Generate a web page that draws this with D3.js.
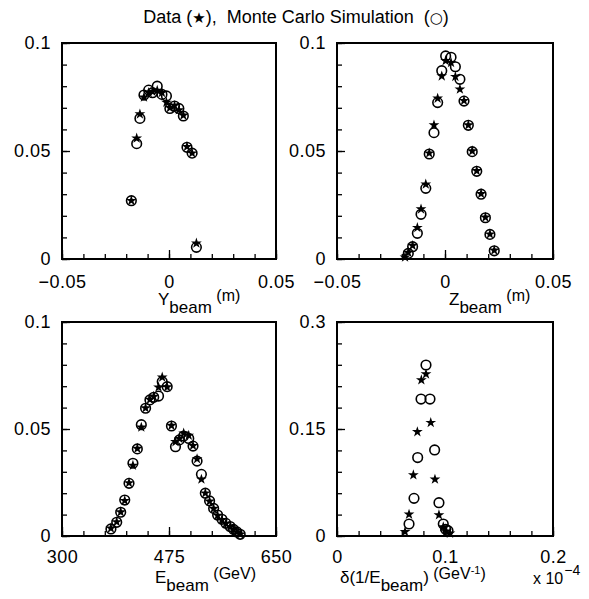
<!DOCTYPE html>
<html><head><meta charset="utf-8">
<script src="https://cdn.jsdelivr.net/npm/d3@7"></script>
<style>
body{margin:0;background:#fff;}
svg{display:block;font-family:"Liberation Sans",Arial,sans-serif;}
</style></head>
<body><svg id="c" width="589" height="599"></svg>
<script>
// ---- Panel 1: Y_beam ----
const yBeamDataX = [-0.0176,-0.0151,-0.0136,-0.0117,-0.0095,-0.0077,-0.0055,-0.0033,-0.0012,0.0004,0.0026,0.0046,0.0067,0.0084,0.0108,0.0128];
const yBeamData  = [0.0270,0.0559,0.0671,0.0749,0.0770,0.0775,0.0780,0.0770,0.0725,0.0700,0.0710,0.0690,0.0665,0.0520,0.0490,0.0073];
const yBeamMCX   = [-0.0176,-0.0151,-0.0136,-0.0117,-0.0095,-0.0077,-0.0055,-0.0033,-0.0012,0.0004,0.0026,0.0046,0.0067,0.0084,0.0108,0.0128];
const yBeamMC    = [0.0270,0.0534,0.0651,0.0759,0.0782,0.0770,0.0800,0.0762,0.0755,0.0697,0.0708,0.0697,0.0662,0.0517,0.0490,0.0054];
// ---- Panel 2: Z_beam ----
const zBeamDataX = [-0.0185,-0.0170,-0.0150,-0.0128,-0.0111,-0.0089,-0.0073,-0.0051,-0.0034,-0.0015,0.0003,0.0028,0.0048,0.0069,0.0088,0.0108,0.0126,0.0147,0.0167,0.0187,0.0208,0.0228];
const zBeamData  = [0.0008,0.0030,0.0062,0.0145,0.0231,0.0346,0.0490,0.0620,0.0744,0.0847,0.0918,0.0909,0.0844,0.0786,0.0733,0.0620,0.0500,0.0408,0.0302,0.0193,0.0115,0.0040];
const zBeamMCX   = [-0.0170,-0.0150,-0.0128,-0.0111,-0.0089,-0.0073,-0.0051,-0.0034,-0.0015,0.0003,0.0028,0.0048,0.0069,0.0088,0.0108,0.0126,0.0147,0.0167,0.0187,0.0208,0.0228];
const zBeamMC    = [0.0026,0.0057,0.0119,0.0207,0.0327,0.0486,0.0585,0.0724,0.0872,0.0940,0.0934,0.0890,0.0832,0.0731,0.0619,0.0497,0.0406,0.0300,0.0191,0.0114,0.0038];
// ---- Panel 3: E_beam ----
const eBeamX     = [380,389.5,396,402.6,409.6,416,423.2,429.7,436.7,443.8,450,457.9,463.9,472,479,485.6,492,499,507.3,514.3,520.9,528,534.4,541.4,548,554.5,561.6,568,575,580.5,586,591.4];
const eBeamData  = [0.0036,0.0066,0.0112,0.0165,0.0248,0.0330,0.0409,0.0508,0.0598,0.0638,0.0652,0.0695,0.0742,0.0696,0.0516,0.0440,0.0455,0.0480,0.0470,0.0422,0.0360,0.0265,0.0200,0.0162,0.0128,0.0096,0.0076,0.0058,0.0043,0.0030,0.0018,0.0008];
const eBeamMC    = [0.0033,0.0064,0.0111,0.0168,0.0246,0.0340,0.0407,0.0520,0.0597,0.0636,0.0648,0.0654,0.0721,0.0698,0.0514,0.0417,0.0449,0.0467,0.0456,0.0420,0.0350,0.0288,0.0200,0.0164,0.0129,0.0098,0.0078,0.0059,0.0044,0.0031,0.0019,0.0008];
// ---- Panel 4: delta(1/E_beam) (x 1e-4) ----
const dInvDataX  = [0.0630,0.0667,0.0707,0.0744,0.0781,0.0824,0.0868,0.0907,0.0944,0.0984,0.1012,0.1046];
const dInvData   = [0.006,0.0304,0.0855,0.146,0.2187,0.227,0.1589,0.0795,0.0294,0.0126,0.0067,0.0037];
const dInvMCX    = [0.0667,0.0713,0.0747,0.0778,0.0824,0.0861,0.0904,0.0944,0.0984,0.1006,0.1028];
const dInvMC     = [0.0168,0.0528,0.110,0.192,0.2397,0.192,0.1206,0.0467,0.0168,0.0094,0.0074];
// ---- tick labels ----
const posXTicks = [-0.05,0,0.05], posXLabels = ["\u22120.05","0","0.05"];
const posYTicks = [0,0.05,0.1],   posYLabels = ["0","0.05","0.1"];
const eXTicks = [300,475,650],    eXLabels = ["300","475","650"];
const dXTicks = [0,0.1,0.2],      dXLabels = ["0","0.1","0.2"];
const dYTicks = [0,0.15,0.3],     dYLabels = ["0","0.15","0.3"];

const FONT = "Liberation Sans, Arial, sans-serif";
const svg = d3.select("#c");
const panels = [
 {x0:62,x1:276,y0:43,y1:259, xd:[-0.05,0.05], yd:[0,0.1], xt:posXTicks, xl:posXLabels, yt:posYTicks, yl:posYLabels,
  dx:yBeamDataX, dy:yBeamData, mx:yBeamMCX, my:yBeamMC, xpad:16},
 {x0:337,x1:553,y0:43,y1:259, xd:[-0.05,0.05], yd:[0,0.1], xt:posXTicks, xl:posXLabels, yt:posYTicks, yl:posYLabels,
  dx:zBeamDataX, dy:zBeamData, mx:zBeamMCX, my:zBeamMC, xpad:16},
 {x0:62,x1:276,y0:322,y1:536, xd:[300,650], yd:[0,0.1], xt:eXTicks, xl:eXLabels, yt:posYTicks, yl:posYLabels,
  dx:eBeamX, dy:eBeamData, mx:eBeamX, my:eBeamMC, xpad:14},
 {x0:337,x1:553,y0:322,y1:536, xd:[0,0.2], yd:[0,0.3], xt:dXTicks, xl:dXLabels, yt:dYTicks, yl:dYLabels,
  dx:dInvDataX, dy:dInvData, mx:dInvMCX, my:dInvMC, xpad:14}
];

const star = d3.symbol().type(d3.symbolStar).size(36);
panels.forEach(p=>{
  const x = d3.scaleLinear().domain(p.xd).range([p.x0,p.x1]);
  const y = d3.scaleLinear().domain(p.yd).range([p.y1,p.y0]);
  const minorX = d3.range(11).map(i=>p.xd[0]+(p.xd[1]-p.xd[0])*i/10);
  const minorY = d3.range(11).map(i=>p.yd[0]+(p.yd[1]-p.yd[0])*i/10);
  svg.append("g").attr("transform",`translate(0,${p.y1})`)
    .call(d3.axisBottom(x).tickValues(minorX).tickSize(-5).tickFormat(""))
    .call(g=>{g.select(".domain").remove(); g.selectAll("line").attr("stroke-width",1.3);});
  svg.append("g").attr("transform",`translate(${p.x0},0)`)
    .call(d3.axisLeft(y).tickValues(minorY).tickSize(-5).tickFormat(""))
    .call(g=>{g.select(".domain").remove(); g.selectAll("line").attr("stroke-width",1.3);});
  svg.append("g").attr("transform",`translate(0,${p.y1})`)
    .call(d3.axisBottom(x).tickValues(p.xt).tickSize(-9).tickPadding(p.xpad).tickFormat((d,i)=>p.xl[i]))
    .call(g=>{g.select(".domain").remove(); g.selectAll("line").attr("stroke-width",1.3);
      g.selectAll("text").attr("font-size",18).attr("font-family",FONT).attr("fill","#000").attr("letter-spacing",0.5);});
  svg.append("g").attr("transform",`translate(${p.x0},0)`)
    .call(d3.axisLeft(y).tickValues(p.yt).tickSize(-8).tickPadding(11).tickFormat((d,i)=>p.yl[i]))
    .call(g=>{g.select(".domain").remove(); g.selectAll("line").attr("stroke-width",1.3);
      g.selectAll("text").attr("font-size",18).attr("font-family",FONT).attr("fill","#000").attr("letter-spacing",0.5);});
  svg.append("rect").attr("x",p.x0).attr("y",p.y0).attr("width",p.x1-p.x0).attr("height",p.y1-p.y0)
    .attr("fill","none").attr("stroke","#000").attr("stroke-width",2);
  svg.append("g").selectAll("circle").data(p.mx.map((v,i)=>[v,p.my[i]])).join("circle")
    .attr("cx",d=>x(d[0])).attr("cy",d=>y(d[1])).attr("r",4.8)
    .attr("fill","none").attr("stroke","#000").attr("stroke-width",1.6);
  svg.append("g").selectAll("path").data(p.dx.map((v,i)=>[v,p.dy[i]])).join("path")
    .attr("d",star).attr("transform",d=>`translate(${x(d[0])},${y(d[1])})`).attr("fill","#000");
});

// title
const tt = svg.append("text").attr("x",296).attr("y",23).attr("text-anchor","middle").attr("font-size",18)
  .attr("font-family",FONT).style("white-space","pre");
tt.append("tspan").text("Data (");
tt.append("tspan").attr("font-family","DejaVu Sans").attr("font-size",15).text("\u2605");
tt.append("tspan").text("),  Monte Carlo Simulation  (");
tt.append("tspan").attr("font-family","DejaVu Sans").attr("font-size",15).text("\u25CB");
tt.append("tspan").text(")");

function subLabel(xs, yb, main, sub, tail){
  const t = svg.append("text").attr("x",xs).attr("y",yb).attr("font-size",17)
    .attr("font-family",FONT).style("white-space","pre");
  t.append("tspan").text(main);
  t.append("tspan").attr("dy",8).text(sub);
  t.append("tspan").attr("dy",-12).attr("font-size",16).text(" (" + tail + ")");
  return t;
}
subLabel(158,305,"Y","beam","m");
subLabel(449,305,"Z","beam","m");
subLabel(155,583,"E","beam","GeV");
const dl = svg.append("text").attr("x",340).attr("y",583).attr("font-size",17)
  .attr("font-family",FONT).style("white-space","pre");
dl.append("tspan").text("\u03B4(1/E");
dl.append("tspan").attr("dy",8).text("beam");
dl.append("tspan").attr("dy",-8).text(")");
dl.append("tspan").attr("dy",-4).attr("font-size",16).text(" (GeV");
dl.append("tspan").attr("dy",-5).attr("font-size",11).text("-1");
dl.append("tspan").attr("dy",5).attr("font-size",16).text(")");
const ex = svg.append("text").attr("x",533).attr("y",584).attr("font-size",16)
  .attr("font-family",FONT).style("white-space","pre");
ex.append("tspan").text("x 10");
ex.append("tspan").attr("dy",-9).attr("dx",1).attr("font-size",14).text("\u22124");
</script></body></html>
